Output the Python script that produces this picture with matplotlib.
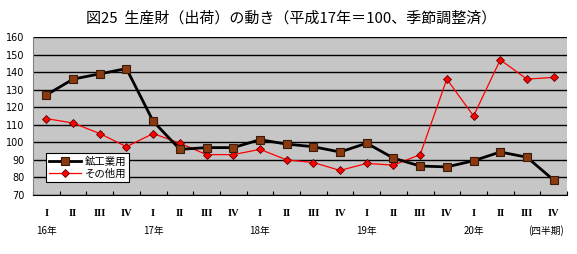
import matplotlib
matplotlib.use("Agg")
import matplotlib.pyplot as plt
import numpy as np

plt.rcParams['font.family'] = ['Noto Sans CJK JP', 'DejaVu Sans']

quarters = ["I", "II", "III", "IV"] * 5
year_labels = ["16年", "17年", "18年", "19年", "20年"]
mining = [127, 136, 139, 142, 112, 96, 97, 97, 101.5, 99, 97.5, 94.5, 99.5, 91, 86.5, 86, 89.5, 94.5, 91.5, 78.5]
other = [113.5, 111, 105, 97.5, 105, 99.5, 93, 93, 96, 90, 88.5, 84, 88, 87, 93, 136, 115, 147, 136, 137]
series_names = ["鉱工業用", "その他用"]

W, H = 577, 254
fig = plt.figure(figsize=(W/100, H/100), dpi=100)
fig.patch.set_facecolor('white')
ax = fig.add_axes([33/W, (H-195)/H, 534/W, 158/H])
ax.set_facecolor('#c6c6c6')

x = np.arange(len(quarters))
ax.plot(x, mining, color='black', lw=2.0, marker='s', ms=6,
        mfc='#8b3a10', mec='#3a1a08', mew=0.8, label=series_names[0], zorder=4)
ax.plot(x, other, color='red', lw=0.9, marker='D', ms=4.5,
        mfc='red', mec='#600000', mew=0.6, label=series_names[1], zorder=3)

ax.set_xlim(-0.5, len(quarters) - 0.5)
ax.set_ylim(70, 160)
ax.set_yticks(np.arange(70, 161, 10))
ax.yaxis.grid(True, color='black', lw=1.0)
ax.set_axisbelow(True)
ax.tick_params(axis='y', length=0, labelsize=7, pad=6)
for lab in ax.get_yticklabels():
    lab.set_family(['DejaVu Sans'])

ax.set_xticks(x)
ax.set_xticklabels(quarters, fontsize=7.5)
for lab in ax.get_xticklabels():
    lab.set_family(['Liberation Serif'])
    lab.set_fontweight('bold')
ax.set_xticks(np.arange(-0.5, len(quarters), 1), minor=True)
ax.tick_params(axis='x', which='major', length=0, pad=10)
ax.tick_params(axis='x', which='minor', length=3, direction='in', color='black', width=0.8)

for s in ['top', 'right']:
    ax.spines[s].set_visible(False)
ax.spines['left'].set_color('#808080')
ax.spines['bottom'].set_color('black')

for i, yl in enumerate(year_labels):
    ax.text(i * 4, -0.225, yl, transform=ax.get_xaxis_transform(), ha='center', va='center', fontsize=7)
ax.text(len(quarters) - 1.3, -0.225, "(四半期)", transform=ax.get_xaxis_transform(), ha='center', va='center', fontsize=7)

leg = ax.legend(loc='lower left', bbox_to_anchor=(8/534, 8/158), fontsize=7.5,
                frameon=True, fancybox=False, edgecolor='black', framealpha=1,
                handlelength=3, borderpad=0.3, labelspacing=0.2, handletextpad=0.4)
leg.get_frame().set_linewidth(0.8)

fig.text(0.505, 1 - 18/H, "図25  生産財（出荷）の動き（平成17年＝100、季節調整済）", ha='center', va='center', fontsize=10.8)

fig.savefig("out.png", dpi=100)
